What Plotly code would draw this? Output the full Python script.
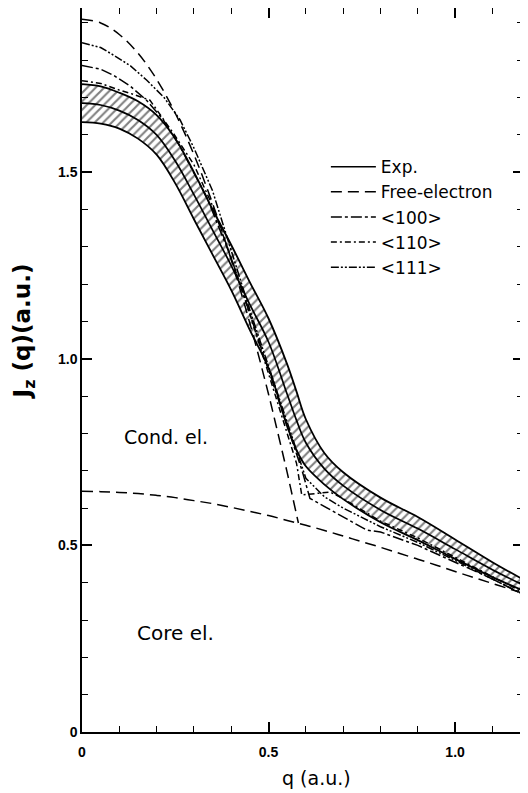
import plotly.graph_objects as go

# ---------------- data ----------------
q_exp = [0, 0.05, 0.1, 0.15, 0.2, 0.25, 0.3, 0.35, 0.4, 0.45, 0.5, 0.55, 0.575, 0.6, 0.65, 0.7, 0.8, 0.9, 1.0, 1.1, 1.18]
exp_mid = [1.685, 1.680, 1.665, 1.64, 1.60, 1.53, 1.44, 1.345, 1.25, 1.145, 1.045, 0.905, 0.835, 0.775, 0.705, 0.66, 0.595, 0.545, 0.49, 0.435, 0.395]
exp_upper = [1.736, 1.730, 1.713, 1.69, 1.653, 1.59, 1.50, 1.40, 1.305, 1.205, 1.108, 0.985, 0.912, 0.838, 0.747, 0.696, 0.628, 0.576, 0.516, 0.455, 0.41]
exp_lower = [1.634, 1.630, 1.617, 1.59, 1.547, 1.47, 1.374, 1.279, 1.184, 1.077, 0.975, 0.819, 0.755, 0.712, 0.663, 0.624, 0.562, 0.514, 0.464, 0.415, 0.38]

q_core = [0, 0.05, 0.1, 0.15, 0.2, 0.25, 0.3, 0.35, 0.4, 0.45, 0.5, 0.55, 0.6, 0.65, 0.7, 0.75, 0.8, 0.85, 0.9, 0.95, 1.0, 1.05, 1.1, 1.15, 1.18]
core = [0.645, 0.644, 0.642, 0.639, 0.634, 0.628, 0.620, 0.612, 0.602, 0.591, 0.580, 0.567, 0.554, 0.540, 0.525, 0.510, 0.495, 0.479, 0.463, 0.447, 0.430, 0.414, 0.398, 0.382, 0.372]

q_free = [0, 0.05, 0.1, 0.15, 0.2, 0.25, 0.3, 0.35, 0.4, 0.45, 0.5, 0.52, 0.55, 0.56, 0.58]
free = [1.910, 1.900, 1.869, 1.819, 1.749, 1.658, 1.547, 1.416, 1.265, 1.095, 0.905, 0.822, 0.695, 0.650, 0.560]

q_100 = [0, 0.05, 0.084, 0.13, 0.173, 0.218, 0.263, 0.3, 0.334, 0.4, 0.45, 0.5, 0.557, 0.59, 0.611, 0.7, 0.763, 0.8, 0.9, 1.0, 1.1, 1.18]
j_100 = [1.786, 1.776, 1.76, 1.73, 1.693, 1.64, 1.568, 1.50, 1.434, 1.27, 1.12, 0.97, 0.80, 0.70, 0.626, 0.577, 0.541, 0.536, 0.50, 0.455, 0.41, 0.37]

q_110 = [0, 0.05, 0.1, 0.14, 0.182, 0.245, 0.3, 0.35, 0.4, 0.45, 0.5, 0.55, 0.575, 0.589, 0.665, 0.7, 0.8, 0.9, 1.0, 1.1, 1.18]
j_110 = [1.745, 1.738, 1.72, 1.708, 1.693, 1.604, 1.52, 1.41, 1.27, 1.12, 0.96, 0.80, 0.72, 0.635, 0.643, 0.625, 0.565, 0.52, 0.468, 0.415, 0.375]

q_111 = [0, 0.05, 0.084, 0.13, 0.173, 0.22, 0.263, 0.3, 0.35, 0.4, 0.45, 0.5, 0.55, 0.58, 0.6, 0.65, 0.7, 0.8, 0.9, 1.0, 1.1, 1.18]
j_111 = [1.847, 1.834, 1.814, 1.785, 1.747, 1.70, 1.640, 1.565, 1.45, 1.29, 1.13, 0.98, 0.83, 0.74, 0.68, 0.63, 0.60, 0.55, 0.508, 0.46, 0.41, 0.37]

x_ticks = [0, 0.5, 1.0]
x_ticklabels = ["0", "0.5", "1.0"]
y_ticks = [0, 0.5, 1.0, 1.5]
y_ticklabels = ["0", "0.5", "1.0", "1.5"]

FONT = "Liberation Sans"
TFONT = "DejaVu Sans"
BLACK = "black"

fig = go.Figure()

# hatched experimental band
fig.add_trace(go.Scatter(x=q_exp, y=exp_lower, mode="lines", line_shape="spline",
                         line=dict(color=BLACK, width=1.8), showlegend=False, hoverinfo="skip"))
fig.add_trace(go.Scatter(x=q_exp, y=exp_upper, mode="lines", line_shape="spline", fill="tonexty",
                         fillcolor="rgba(0,0,0,0)",
                         fillpattern=dict(shape="/", fgcolor=BLACK, bgcolor="white", size=6, solidity=0.35),
                         line=dict(color=BLACK, width=1.8), showlegend=False, hoverinfo="skip"))
fig.add_trace(go.Scatter(x=q_exp, y=exp_mid, mode="lines", line_shape="spline", name="Exp.",
                         line=dict(color=BLACK, width=1.7), legendrank=1))

fig.add_trace(go.Scatter(x=q_free, y=free, mode="lines", line_shape="spline", name="Free-electron",
                         line=dict(color=BLACK, width=1.5, dash="11px,6px"), legendrank=2))
fig.add_trace(go.Scatter(x=q_100, y=j_100, mode="lines", name="&lt;100&gt;",
                         line=dict(color=BLACK, width=1.5, dash="11px,3px,3px,3px"), legendrank=3))
fig.add_trace(go.Scatter(x=q_110, y=j_110, mode="lines", name="&lt;110&gt;",
                         line=dict(color=BLACK, width=1.5, dash="6px,3px,2px,3px"), legendrank=4))
fig.add_trace(go.Scatter(x=q_111, y=j_111, mode="lines", name="&lt;111&gt;",
                         line=dict(color=BLACK, width=1.5, dash="8px,2px,2px,2px,2px,2px"), legendrank=5))

fig.add_trace(go.Scatter(x=q_core, y=core, mode="lines", line_shape="spline",
                         line=dict(color=BLACK, width=1.5, dash="11px,6px"), showlegend=False))

fig.add_annotation(x=0.226, y=0.79, text="Cond. el.", showarrow=False,
                   font=dict(family=TFONT, size=19, color=BLACK))
fig.add_annotation(x=0.25, y=0.265, text="Core el.", showarrow=False,
                   font=dict(family=TFONT, size=20, color=BLACK))

# axis titles (placed as in the reference)
fig.add_annotation(xref="paper", yref="paper", x=0.531, y=-0.0635, yanchor="middle",
                   text="q (a.u.)", showarrow=False,
                   font=dict(family=TFONT, size=19, color=BLACK))
fig.add_annotation(xref="paper", yref="paper", x=-0.132, y=0.553, xanchor="center", yanchor="middle",
                   text="<b>J<sub>z</sub> (q)(a.u.)</b>", textangle=-90, showarrow=False,
                   borderpad=0, font=dict(family=TFONT, size=23, color=BLACK))

axis_common = dict(showline=True, linecolor=BLACK, linewidth=1.5, mirror="ticks",
                   ticks="inside", ticklen=10, tickwidth=1.5, tickcolor=BLACK,
                   showgrid=False, zeroline=False, automargin=False,
                   tickfont=dict(family=FONT, size=14, color=BLACK, weight="bold"),
                   minor=dict(dtick=0.1, ticks="inside", ticklen=6, tickwidth=1.2, tickcolor=BLACK, showgrid=False))

fig.update_xaxes(range=[0, 1.182], tickvals=x_ticks, ticktext=x_ticklabels, ticklabelstandoff=6,
                 **axis_common)
fig.update_yaxes(range=[0, 1.94], tickvals=y_ticks, ticktext=y_ticklabels,
                 **axis_common)

# the page places the figure 8 px from the window's top-left corner
fig.update_layout(
    width=520, height=785,
    margin=dict(l=74, r=5, t=0, b=61, autoexpand=False),
    paper_bgcolor="white", plot_bgcolor="white",
    font=dict(family=FONT, color=BLACK),
    legend=dict(x=0.553, y=0.805, xanchor="left", yanchor="top", traceorder="normal",
                bgcolor="rgba(0,0,0,0)", font=dict(family=TFONT, size=17, color=BLACK),
                itemwidth=45),
)

fig.write_html("out.html")
